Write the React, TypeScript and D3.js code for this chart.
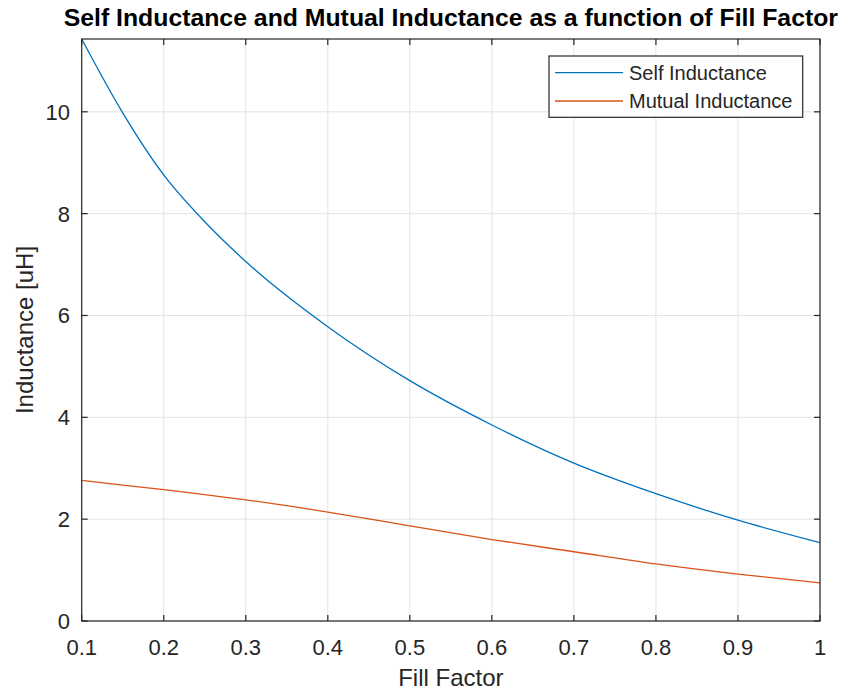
import { useEffect, useRef } from "react";
import * as d3 from "d3";

// fill factor samples
const fillFactor = [0.1, 0.15, 0.2, 0.25, 0.3, 0.4, 0.5, 0.6, 0.7, 0.8, 0.9, 1.0];
// self inductance [uH]
const selfL = [11.43, 9.98, 8.76, 7.84, 7.06, 5.78, 4.72, 3.85, 3.1, 2.5, 1.98, 1.54];
// mutual inductance [uH]
const mutualL = [2.76, 2.67, 2.58, 2.48, 2.38, 2.14, 1.87, 1.6, 1.36, 1.12, 0.92, 0.75];

const xTicks = [0.1, 0.2, 0.3, 0.4, 0.5, 0.6, 0.7, 0.8, 0.9, 1];
const yTicks = [0, 2, 4, 6, 8, 10];
const seriesNames = ["Self Inductance", "Mutual Inductance"];
const seriesColors = ["#0072BD", "#D95319"];

const W = 843;
const H = 693;
const font = "'Liberation Sans', Arial, sans-serif";
const axisColor = "#262626";

export default function App() {
  const ref = useRef<SVGSVGElement>(null);

  useEffect(() => {
    const svg = d3.select(ref.current);
    svg.selectAll("*").remove();

    const left = 81.7, right = 820, top = 39, bottom = 621;
    const x = d3.scaleLinear().domain([0.1, 1]).range([left, right]);
    const y = d3.scaleLinear().domain([0, 11.43]).range([bottom, top]);

    svg.append("rect").attr("width", W).attr("height", H).attr("fill", "#fff");

    // grid
    const grid = svg.append("g").attr("stroke", "#e3e3e3").attr("stroke-width", 1);
    xTicks.forEach((t) => {
      grid.append("line").attr("x1", x(t)).attr("x2", x(t)).attr("y1", top).attr("y2", bottom);
    });
    yTicks.forEach((t) => {
      grid.append("line").attr("x1", left).attr("x2", right).attr("y1", y(t)).attr("y2", y(t));
    });

    // lines
    const data = [selfL, mutualL];
    data.forEach((vals, i) => {
      const line = d3
        .line<number>()
        .x((_, j) => x(fillFactor[j]))
        .y((d) => y(d))
        .curve(d3.curveMonotoneX);
      svg
        .append("path")
        .datum(vals)
        .attr("d", line)
        .attr("fill", "none")
        .attr("stroke", seriesColors[i])
        .attr("stroke-width", 1.3);
    });

    // box + ticks
    const ax = svg.append("g").attr("stroke", axisColor).attr("stroke-width", 1.2);
    ax.append("rect")
      .attr("x", left).attr("y", top)
      .attr("width", right - left).attr("height", bottom - top)
      .attr("fill", "none");
    const tl = 6;
    xTicks.forEach((t) => {
      ax.append("line").attr("x1", x(t)).attr("x2", x(t)).attr("y1", bottom).attr("y2", bottom - tl);
      ax.append("line").attr("x1", x(t)).attr("x2", x(t)).attr("y1", top).attr("y2", top + tl);
    });
    yTicks.forEach((t) => {
      ax.append("line").attr("x1", left).attr("x2", left + tl).attr("y1", y(t)).attr("y2", y(t));
      ax.append("line").attr("x1", right).attr("x2", right - tl).attr("y1", y(t)).attr("y2", y(t));
    });

    // tick labels
    const txt = svg.append("g").attr("font-family", font).attr("fill", axisColor);
    xTicks.forEach((t) => {
      txt.append("text")
        .attr("x", x(t)).attr("y", 655)
        .attr("text-anchor", "middle")
        .attr("font-size", 22)
        .text(String(t));
    });
    yTicks.forEach((t) => {
      txt.append("text")
        .attr("x", 70).attr("y", y(t) + 8)
        .attr("text-anchor", "end")
        .attr("font-size", 22)
        .text(String(t));
    });

    // axis labels
    txt.append("text")
      .attr("x", (left + right) / 2).attr("y", 686)
      .attr("text-anchor", "middle")
      .attr("font-size", 24)
      .text("Fill Factor");
    txt.append("text")
      .attr("transform", `translate(33, ${(top + bottom) / 2}) rotate(-90)`)
      .attr("text-anchor", "middle")
      .attr("font-size", 24)
      .text("Inductance [uH]");

    // title
    svg.append("text")
      .attr("x", (left + right) / 2).attr("y", 26)
      .attr("text-anchor", "middle")
      .attr("font-family", font)
      .attr("font-weight", "bold")
      .attr("font-size", 24.8)
      .attr("fill", "#000")
      .text("Self Inductance and Mutual Inductance as a function of Fill Factor");

    // legend
    const lg = svg.append("g");
    lg.append("rect")
      .attr("x", 549).attr("y", 56).attr("width", 253.7).attr("height", 61.3)
      .attr("fill", "#fff").attr("stroke", axisColor).attr("stroke-width", 1.2);
    seriesNames.forEach((name, i) => {
      const ly = 72.7 + i * 28.3;
      lg.append("line")
        .attr("x1", 555).attr("x2", 623).attr("y1", ly).attr("y2", ly)
        .attr("stroke", seriesColors[i]).attr("stroke-width", 1.3);
      lg.append("text")
        .attr("x", 629).attr("y", ly + 7)
        .attr("font-family", font).attr("font-size", 20).attr("fill", axisColor)
        .text(name);
    });
  }, []);

  return <svg ref={ref} width={W} height={H} style={{ position: "absolute", left: 0, top: 0 }} />;
}
